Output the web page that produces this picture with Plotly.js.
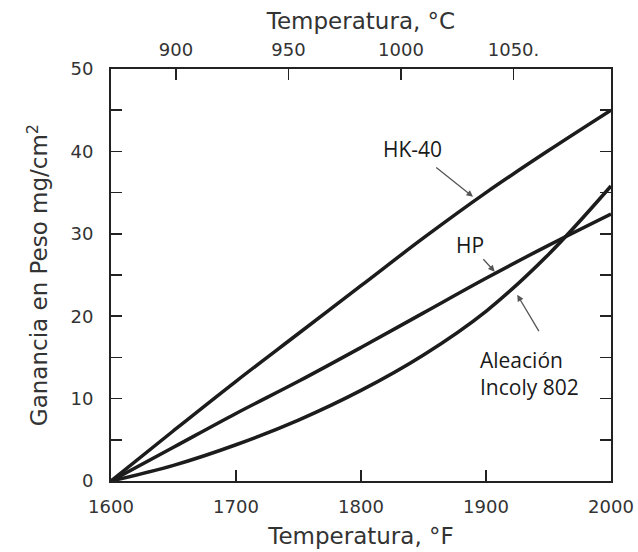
<!DOCTYPE html>
<html>
<head>
<meta charset="utf-8">
<script src="https://cdn.plot.ly/plotly-3.0.1.min.js"></script>
<style>
  html, body { margin: 0; padding: 0; background: #fff; }
  #chart { width: 638px; height: 552px; }
</style>
</head>
<body>
<div id="chart"></div>
<script>
// Temperatures in °F
const tempF = [1600, 1650, 1700, 1750, 1800, 1850, 1900, 1950, 2000];
// Weight gain, mg/cm^2
const hk40    = [0, 6.1, 12.1, 17.9, 23.7, 29.5, 35.0, 40.1, 45.0];
const hp      = [0, 4.1, 8.2, 12.1, 16.2, 20.4, 24.6, 28.6, 32.4];
const incoloy = [0, 1.9, 4.4, 7.4, 11.0, 15.3, 20.6, 27.5, 35.8];

// Top axis (°C) ticks
const tickC = [900, 950, 1000, 1050];
const tickCText = ['900', '950', '1000', '1050.'];
const tickF = [1600, 1700, 1800, 1900, 2000];
const tickFText = ['1600', '1700', '1800', '1900', '2000'];

const toC = f => (f - 32) * 5 / 9;

const fam = '"DejaVu Sans", Verdana, sans-serif';
const axisFont = { family: fam, size: 18, color: '#333' };
const titleFont = { family: fam, size: 23, color: '#333' };
const labelFont = { family: '"Open Sans", "Noto Sans", sans-serif', size: 21, color: '#1a1a1a' };

const curveLine = { color: '#1c1c1c', width: 3.5, shape: 'spline', smoothing: 1 };

const traces = [
  { x: tempF, y: hk40, mode: 'lines', line: curveLine, name: 'HK-40', hoverinfo: 'skip' },
  { x: tempF, y: hp, mode: 'lines', line: curveLine, name: 'HP', hoverinfo: 'skip' },
  { x: tempF, y: incoloy, mode: 'lines', line: curveLine, name: 'Incoloy 802', hoverinfo: 'skip' },
  { x: tempF.map(toC), y: hk40, xaxis: 'x2', mode: 'lines', line: { width: 0, color: 'rgba(0,0,0,0)' }, hoverinfo: 'skip', showlegend: false }
];

const arrowStyle = { showarrow: true, arrowhead: 2, arrowsize: 1, arrowwidth: 1.3, arrowcolor: '#555', text: '', axref: 'x', ayref: 'y', xref: 'x', yref: 'y' };

const layout = {
  width: 638, height: 552,
  margin: { l: 111, r: 27, t: 69, b: 71 },
  paper_bgcolor: '#fff', plot_bgcolor: '#fff',
  showlegend: false,
  xaxis: {
    range: [1600, 2000],
    tickvals: tickF, ticktext: tickFText,
    ticks: 'inside', ticklen: 11, tickwidth: 1.5, tickcolor: '#222',
    ticklabelstandoff: 8,
    showline: true, linecolor: '#222', linewidth: 2, mirror: true,
    showgrid: false, zeroline: false,
    tickfont: axisFont,
    title: { text: 'Temperatura, °F', font: titleFont, standoff: 12 }
  },
  xaxis2: {
    overlaying: 'x', side: 'top',
    range: [toC(1600), toC(2000)],
    tickvals: tickC, ticktext: tickCText,
    ticks: 'inside', ticklen: 11, tickwidth: 1.5, tickcolor: '#222',
    ticklabelstandoff: 8,
    showline: false, showgrid: false, zeroline: false,
    tickfont: axisFont,
    title: { text: 'Temperatura, °C', font: titleFont, standoff: 3 }
  },
  yaxis: {
    range: [0, 50],
    dtick: 10, tick0: 0,
    ticks: 'inside', ticklen: 11, tickwidth: 1.5, tickcolor: '#222',
    ticklabelstandoff: 12,
    minor: { dtick: 5, ticks: 'inside', ticklen: 11, tickwidth: 1.5, tickcolor: '#222', showgrid: false },
    showline: true, linecolor: '#222', linewidth: 2, mirror: 'ticks',
    showgrid: false, zeroline: false,
    tickfont: axisFont,
    title: { text: 'Ganancia en Peso mg/cm<sup>2</sup>', font: titleFont, standoff: 16 }
  },
  annotations: [
    { x: 1841, y: 40.3, xref: 'x', yref: 'y', text: 'HK-40', showarrow: false, font: labelFont },
    Object.assign({ x: 1889.6, y: 34.5, ax: 1859, ay: 38.2 }, arrowStyle),
    { x: 1887, y: 28.7, xref: 'x', yref: 'y', text: 'HP', showarrow: false, font: labelFont },
    Object.assign({ x: 1907, y: 25.4, ax: 1896.8, ay: 27.1 }, arrowStyle),
    { x: 1893.6, y: 13.1, xref: 'x', yref: 'y', xanchor: 'left', align: 'left', text: 'Aleación<br>Incoly 802', showarrow: false, font: labelFont },
    Object.assign({ x: 1925, y: 22.6, ax: 1943, ay: 18.0 }, arrowStyle)
  ]
};

Plotly.newPlot('chart', traces, layout, { displayModeBar: false, staticPlot: true });
</script>
</body>
</html>
